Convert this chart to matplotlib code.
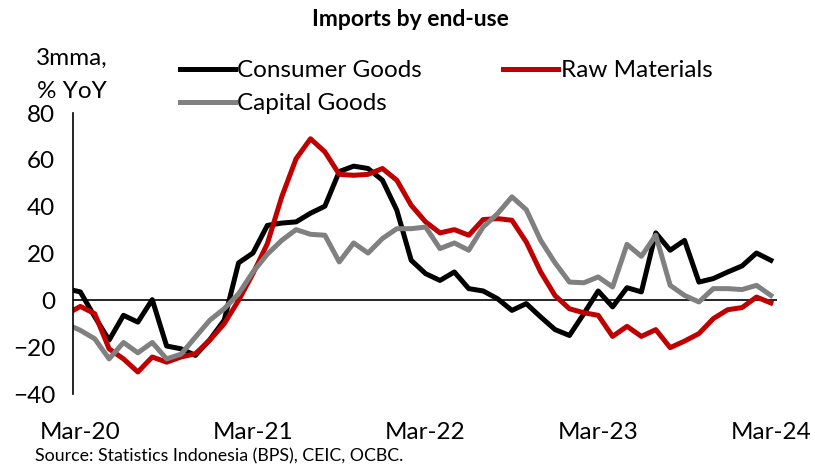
import matplotlib

matplotlib.use("Agg")
import matplotlib.pyplot as plt


# Feb-20 .. Mar-24, monthly (Feb-20 sits just left of the axis and is clipped)
MONTHS = ['Feb-20', 'Mar-20', 'Apr-20', 'May-20', 'Jun-20', 'Jul-20', 'Aug-20',
          'Sep-20', 'Oct-20', 'Nov-20', 'Dec-20', 'Jan-21', 'Feb-21', 'Mar-21',
          'Apr-21', 'May-21', 'Jun-21', 'Jul-21', 'Aug-21', 'Sep-21', 'Oct-21',
          'Nov-21', 'Dec-21', 'Jan-22', 'Feb-22', 'Mar-22', 'Apr-22', 'May-22',
          'Jun-22', 'Jul-22', 'Aug-22', 'Sep-22', 'Oct-22', 'Nov-22', 'Dec-22',
          'Jan-23', 'Feb-23', 'Mar-23', 'Apr-23', 'May-23', 'Jun-23', 'Jul-23',
          'Aug-23', 'Sep-23', 'Oct-23', 'Nov-23', 'Dec-23', 'Jan-24', 'Feb-24',
          'Mar-24']

consumer = [5.0, 3.6, -7.0, -17.0, -6.4, -9.3, 0.3, -19.5, -20.7, -23.5,
            -16.8, -8.5, 16.0, 20.2, 32.0, 33.0, 33.5, 37.2, 40.2, 55.0,
            57.3, 56.3, 51.3, 38.5, 17.1, 11.4, 8.5, 12.1, 5.0, 4.0,
            0.7, -4.3, -1.4, -7.1, -12.5, -15.0, -5.7, 4.0, -2.8, 5.4,
            3.6, 28.8, 21.4, 25.6, 7.8, 9.3, 12.1, 14.7, 20.2, 17.1]

raw = [-6.0, -2.6, -5.7, -20.7, -25.0, -30.6, -24.2, -26.4, -24.2, -22.8,
       -17.0, -10.0, 0.0, 11.4, 24.2, 44.2, 60.5, 69.0, 63.4, 53.8,
       53.4, 53.8, 56.3, 51.3, 40.6, 33.5, 28.8, 30.2, 27.8, 34.5,
       34.9, 34.2, 24.9, 12.1, 2.0, -3.6, -5.3, -6.4, -15.4, -11.1,
       -15.4, -12.5, -20.2, -17.4, -14.2, -7.8, -4.0, -3.1, 1.4, -1.1]

capital = [-10.0, -12.8, -16.4, -25.0, -18.0, -22.4, -18.0, -25.0, -23.0, -15.7,
           -8.5, -3.6, 2.8, 12.1, 19.7, 25.6, 30.2, 28.2, 27.8, 16.4,
           24.5, 20.2, 26.4, 30.6, 30.6, 31.3, 22.1, 24.5, 21.4, 31.3,
           37.0, 44.2, 38.7, 25.6, 16.0, 7.8, 7.5, 10.0, 5.7, 23.9,
           18.8, 27.8, 6.4, 2.1, -0.7, 5.0, 5.0, 4.6, 6.4, 2.1]

TICK_LABELS = ['Mar-20', 'Mar-21', 'Mar-22', 'Mar-23', 'Mar-24']

FONT = ['Lato', 'DejaVu Sans']
plt.rcParams['font.family'] = FONT

fig = plt.figure(figsize=(8.15, 4.66), dpi=100)
ax = fig.add_axes([0.0899, 0.1545, 0.863, 0.603])

xs = list(range(-1, len(MONTHS) - 1))
l1, = ax.plot(xs, consumer, color='#000000', lw=3.6, label='Consumer Goods')
l2, = ax.plot(xs, raw, color='#C00000', lw=3.6, label='Raw Materials')
l3, = ax.plot(xs, capital, color='#808080', lw=3.6, label='Capital Goods')

ax.axhline(0, color='black', lw=1.2, zorder=1)
ax.set_xlim(-0.49, 48.4)
ax.set_ylim(-40, 80)
ax.set_yticks(range(-40, 81, 20))
ax.set_xticks([MONTHS.index(m) - 1 for m in TICK_LABELS])
ax.set_xticklabels(TICK_LABELS)
ax.tick_params(axis='y', length=0, pad=13, labelsize=17.5)
ax.tick_params(axis='x', length=0, pad=20, labelsize=17.5)
for s in ['top', 'right', 'bottom']:
    ax.spines[s].set_visible(False)
ax.spines['left'].set_linewidth(1.2)

ax.legend([l1, l3, l2], ['Consumer Goods', 'Capital Goods', 'Raw Materials'],
          ncol=2, frameon=False, fontsize=17.5, handlelength=2.25,
          handletextpad=0.1, columnspacing=3.35, labelspacing=0.5,
          loc='lower left', bbox_to_anchor=(0.152, 0.995), borderpad=0,
          borderaxespad=0)

fig.text(0.503, 0.959, 'Imports by end-use', ha='center', va='center',
         fontsize=16.5, fontweight='bold')
fig.text(0.088, 0.874, '3mma,', ha='center', va='center', fontsize=17.5)
fig.text(0.088, 0.804, '% YoY', ha='center', va='center', fontsize=17.5)
fig.text(0.043, 0.02, 'Source: Statistics Indonesia (BPS), CEIC, OCBC.',
         ha='left', va='center', fontsize=12.8)

fig.savefig('out.png', dpi=100)
